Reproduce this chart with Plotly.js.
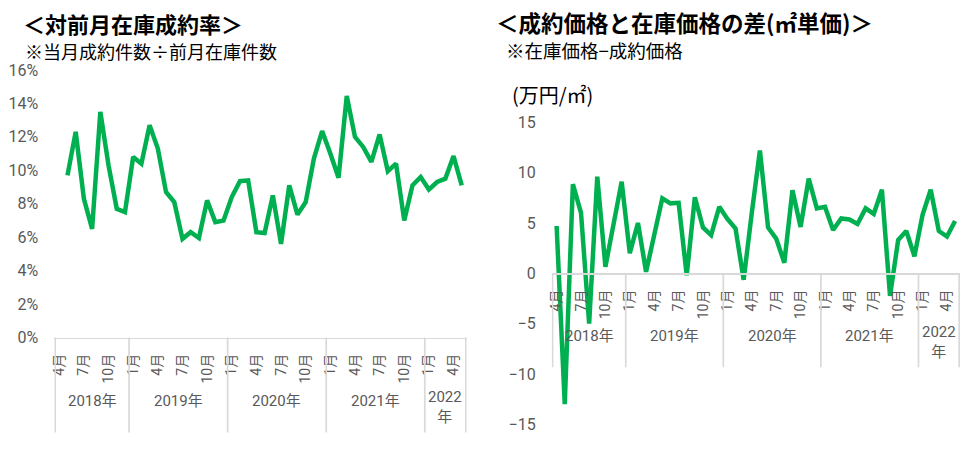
<!DOCTYPE html>
<html>
<head>
<meta charset="utf-8">
<script src="https://cdn.plot.ly/plotly-3.0.1.min.js"></script>
<style>
  html, body { margin: 0; padding: 0; background: #fff; }
  #chart { width: 976px; height: 449px; }
</style>
</head>
<body>
<div id="chart"></div>
<script>
// months shown on both charts
const periods = [
    '2018/4', '2018/5', '2018/6', '2018/7', '2018/8', '2018/9', '2018/10', '2018/11', '2018/12',
    '2019/1', '2019/2', '2019/3', '2019/4', '2019/5', '2019/6', '2019/7', '2019/8', '2019/9', '2019/10', '2019/11', '2019/12',
    '2020/1', '2020/2', '2020/3', '2020/4', '2020/5', '2020/6', '2020/7', '2020/8', '2020/9', '2020/10', '2020/11', '2020/12',
    '2021/1', '2021/2', '2021/3', '2021/4', '2021/5', '2021/6', '2021/7', '2021/8', '2021/9', '2021/10', '2021/11', '2021/12',
    '2022/1', '2022/2', '2022/3', '2022/4', '2022/5'
];

// 対前月在庫成約率 (%)
const contractRate = [
    null, 9.7, 12.3, 8.3, 6.5, 13.5, 10.3, 7.7, 7.5,
    10.8, 10.4, 12.7, 11.3, 8.7, 8.1, 5.9, 6.3, 5.95, 8.2, 6.9, 7.0,
    8.4, 9.35, 9.4, 6.3, 6.25, 8.5, 5.6, 9.1, 7.35, 8.1, 10.7, 12.35,
    11.0, 9.55, 14.45, 12.0, 11.4, 10.5, 12.15, 9.95, 10.4, 7.0, 9.1, 9.6,
    8.85, 9.3, 9.5, 10.85, 9.1
];

// 在庫価格 - 成約価格 (万円/㎡)
const priceGap = [
    4.7, -13.0, 8.85, 6.0, -5.0, 9.6, 0.65, 5.0, 9.1,
    2.0, 5.0, 0.15, 3.7, 7.45, 6.95, 7.0, -0.2, 7.55, 4.55, 3.8, 6.6,
    5.4, 4.45, -0.65, 6.0, 12.2, 4.55, 3.45, 1.05, 8.25, 4.6, 9.4, 6.45,
    6.6, 4.3, 5.45, 5.35, 4.9, 6.45, 5.9, 8.3, -2.25, 3.3, 4.2, 1.7,
    5.8, 8.3, 4.2, 3.65, 5.2
];

const labelMonths = [1, 4, 7, 10];

const W = 976, H = 449;
const px = x => x / W;
const py = y => 1 - y / H;

const GREEN = '#00B050';
const GREY_TEXT = '#595959';
const GREY_LINE = '#d9d9d9';
const TICK_FONT = "'Liberation Sans Narrow', Roboto, 'Noto Sans CJK JP', sans-serif";
const JP_FONT = "'Noto Sans CJK JP', sans-serif";

const yearOf = p => p.split('/')[0];
const monthOf = p => +p.split('/')[1];

const tickPeriods = periods.filter(p => labelMonths.includes(monthOf(p)));
const tickText = tickPeriods.map(p => monthOf(p) + '月');

const yearGroups = [];
periods.forEach((p, i) => {
    const last = yearGroups[yearGroups.length - 1];
    if (!last || last.year !== yearOf(p)) {
        yearGroups.push({ year: yearOf(p), first: i, last: i });
    } else {
        last.last = i;
    }
});

const shapes = [];
const annotations = [];

// year row under a month axis: dividers + labels
function addYearRow(xref, axisY, labelY, dividerLen) {
    const edges = yearGroups.map(g => g.first - 0.5);
    edges.push(yearGroups[yearGroups.length - 1].last + 0.5);
    edges.forEach(e => shapes.push({
        type: 'line', xref: xref, yref: 'paper',
        x0: e, x1: e, y0: axisY, y1: axisY - dividerLen / H,
        line: { color: GREY_LINE, width: 1.7 }
    }));
    yearGroups.forEach(g => {
        const narrow = g.last - g.first + 1 < 6;
        annotations.push({
            xref: xref, yref: 'paper', x: (g.first + g.last) / 2, y: labelY,
            text: narrow ? g.year + '<br>年' : g.year + '年',
            showarrow: false, xanchor: 'center', yanchor: 'middle',
            yshift: narrow ? -6 : 0,
            font: { family: TICK_FONT, size: 15, color: GREY_TEXT }
        });
    });
}

function monthAxis(domain) {
    return {
        domain: domain,
        type: 'category',
        categoryorder: 'array',
        categoryarray: periods,
        tickmode: 'array',
        tickvals: tickPeriods,
        ticktext: tickText,
        tickangle: -90,
        ticks: '',
        ticklabelstandoff: 9,
        showline: true,
        linecolor: GREY_LINE,
        linewidth: 1.7,
        showgrid: false,
        zeroline: false,
        fixedrange: true,
        tickfont: { family: TICK_FONT, size: 14, color: GREY_TEXT }
    };
}

function valueAxis(domain, range, dtick, suffix) {
    return {
        domain: domain,
        range: range,
        dtick: dtick,
        ticksuffix: suffix,
        ticks: '',
        ticklabelstandoff: 15,
        showline: false,
        showgrid: false,
        zeroline: false,
        fixedrange: true,
        tickfont: { family: TICK_FONT, size: 16, color: GREY_TEXT }
    };
}

// left chart
const xaxis = monthAxis([px(54.3), px(466.7)]);
xaxis.anchor = 'y';
const yaxis = valueAxis([py(337.5), py(70)], [0, 16], 2, '%');
yaxis.anchor = 'x';
addYearRow('x', py(337.5), py(401), 95);

// right chart, month axis sits on the zero line
const y2Range = [-15, 15];
const y2Domain = [py(424.3), py(122.3)];
const zeroPos = y2Domain[0] + (0 - y2Range[0]) / (y2Range[1] - y2Range[0]) * (y2Domain[1] - y2Domain[0]);
const xaxis2 = monthAxis([px(551.7), px(960)]);
xaxis2.anchor = 'free';
xaxis2.position = zeroPos;
const yaxis2 = valueAxis(y2Domain, y2Range, 5, '');
yaxis2.anchor = 'x2';
addYearRow('x2', zeroPos, py(336), 94);

// titles
function text(x, y, str, size, bold) {
    annotations.push({
        xref: 'paper', yref: 'paper', x: px(x), y: py(y), text: str,
        showarrow: false, xanchor: 'left', yanchor: 'middle', borderpad: 0,
        font: { family: JP_FONT, size: size, color: '#000', weight: bold ? 700 : 400 }
    });
}
text(22, 23, '＜対前月在庫成約率＞', 22, true);
text(24, 51.5, '※当月成約件数÷前月在庫件数', 18, false);
text(495, 21.5, '＜成約価格と在庫価格の差(㎡単価)＞', 22.5, true);
text(505, 50, '※在庫価格−成約価格', 18.5, false);
text(511, 94, '(万円/㎡)', 20, false);

const data = [
    {
        x: periods, y: contractRate, xaxis: 'x', yaxis: 'y',
        type: 'scatter', mode: 'lines', hoverinfo: 'skip',
        line: { color: GREEN, width: 4.5 }
    },
    {
        x: periods, y: priceGap, xaxis: 'x2', yaxis: 'y2',
        type: 'scatter', mode: 'lines', hoverinfo: 'skip',
        line: { color: GREEN, width: 4.5 }
    }
];

const layout = {
    width: W,
    height: H,
    margin: { l: 0, r: 0, t: 0, b: 0 },
    paper_bgcolor: '#fff',
    plot_bgcolor: 'rgba(0,0,0,0)',
    showlegend: false,
    xaxis: xaxis,
    yaxis: yaxis,
    xaxis2: xaxis2,
    yaxis2: yaxis2,
    shapes: shapes,
    annotations: annotations
};

Plotly.newPlot('chart', data, layout, { staticPlot: true, displayModeBar: false });
</script>
</body>
</html>
